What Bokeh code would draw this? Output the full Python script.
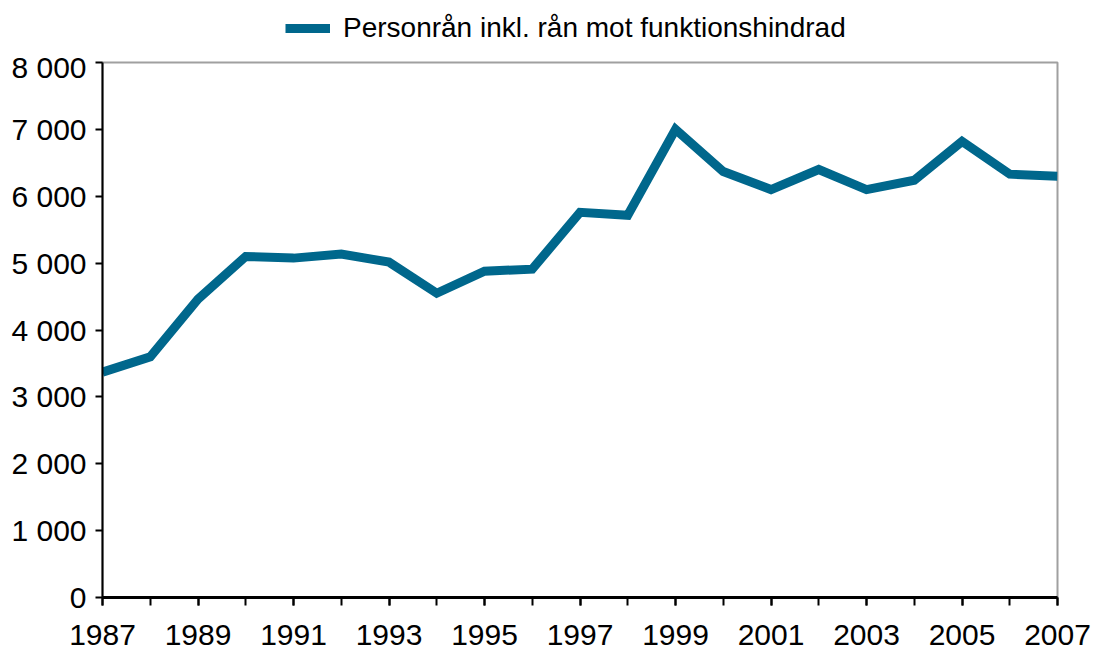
from bokeh.plotting import figure
from bokeh.layouts import column
from bokeh.models import Legend, LegendItem, FixedTicker, Range1d
from bokeh.embed import file_html
from bokeh.resources import INLINE

years = list(range(1987, 2008))
robbery = [3370, 3600, 4460, 5100, 5075, 5135, 5015, 4550, 4880, 4910,
           5760, 5715, 7000, 6370, 6100, 6400, 6100, 6240, 6820, 6330, 6300]
series_name = "Personrån inkl. rån mot funktionshindrad"
x_label_years = list(range(1987, 2008, 2))
y_ticks = [0, 1000, 2000, 3000, 4000, 5000, 6000, 7000, 8000]
y_tick_labels = ["0", "1 000", "2 000", "3 000", "4 000", "5 000", "6 000", "7 000", "8 000"]

FONT = "Liberation Sans"
COLOR = "#00678C"
LEG_H = 50
MAIN_H = 607

# legend strip above the chart (its series sits outside the strip's view)
top = figure(width=1094, height=LEG_H, output_backend="svg", toolbar_location=None,
             x_range=Range1d(0, 1), y_range=Range1d(0, 1),
             x_axis_type=None, y_axis_type=None,
             min_border_left=0, min_border_right=0, min_border_top=0, min_border_bottom=0)
top.grid.visible = False
top.outline_line_color = None
leg_r = top.line(years, robbery, line_color=COLOR, line_width=9)
legend = Legend(items=[LegendItem(label=series_name, renderers=[leg_r])],
                location=(183, 6), orientation="horizontal",
                label_text_font=FONT, label_text_font_size="28px", label_text_color="black",
                glyph_width=45, glyph_height=24, label_standoff=13,
                border_line_alpha=0, background_fill_alpha=0,
                padding=0, margin=0, spacing=0)
top.add_layout(legend)

p = figure(width=1094, height=MAIN_H, output_backend="svg", toolbar_location=None,
           x_range=Range1d(1987, 2007), y_range=Range1d(0, 8000),
           min_border_left=102, min_border_right=37, min_border_top=62 - LEG_H,
           min_border_bottom=60)

r = p.line(years, robbery, line_color=COLOR, line_width=9, line_join="miter")

p.grid.visible = False
p.outline_line_color = "#A0A0A0"
p.outline_line_width = 2
p.background_fill_color = "white"
p.border_fill_color = "white"

# y axis
ya = p.yaxis[0]
ya.ticker = FixedTicker(ticks=y_ticks)
ya.major_label_overrides = {t: l for t, l in zip(y_ticks, y_tick_labels)}
ya.axis_line_color = "black"
ya.axis_line_width = 2
ya.major_tick_line_color = "black"
ya.major_tick_line_width = 2
ya.major_tick_out = 7
ya.major_tick_in = 0
ya.minor_tick_line_color = None
ya.major_label_text_font = FONT
ya.major_label_text_font_size = "30px"
ya.major_label_text_color = "black"
ya.major_label_standoff = 9

# x axis
xa = p.xaxis[0]
xa.ticker = FixedTicker(ticks=x_label_years, minor_ticks=years)
xa.axis_line_color = "black"
xa.axis_line_width = 3
xa.major_tick_line_color = "black"
xa.major_tick_line_width = 2
xa.major_tick_out = 8
xa.major_tick_in = 0
xa.minor_tick_line_color = "black"
xa.minor_tick_line_width = 2
xa.minor_tick_out = 8
xa.minor_tick_in = 0
xa.major_label_text_font = FONT
xa.major_label_text_font_size = "30px"
xa.major_label_text_color = "black"
xa.major_label_standoff = 19

layout = column(top, p, spacing=0)
open("out.html", "w").write(file_html(layout, INLINE))
